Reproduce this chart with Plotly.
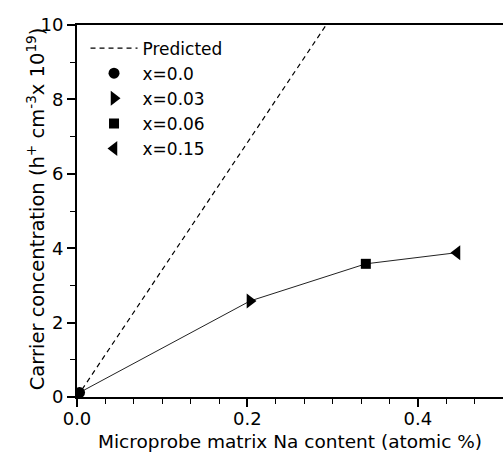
import plotly.graph_objects as go

# Measured hole concentration vs. microprobe matrix Na content
labels = ["x=0.0", "x=0.03", "x=0.06", "x=0.15"]
na_content = [0.003, 0.203, 0.339, 0.446]
carrier_conc = [0.12, 2.58, 3.58, 3.88]
symbols = ["circle", "triangle-right", "square", "triangle-left"]
sizes = [11, 13, 10, 13]

# Predicted carrier concentration (straight line from the origin)
pred_x = [0.0, 0.5]
pred_y = [0.0, 17.1]

x_ticks = [0.0, 0.2, 0.4]
y_ticks = [0, 2, 4, 6, 8, 10]

FONT = "DejaVu Sans"

fig = go.Figure()

fig.add_trace(go.Scatter(
    x=pred_x, y=pred_y, mode="lines", name="Predicted",
    line=dict(color="black", width=1.2, dash="5px,4px"),
))

fig.add_trace(go.Scatter(
    x=na_content, y=carrier_conc, mode="lines", showlegend=False,
    line=dict(color="#222", width=1), hoverinfo="skip",
))

for lab, xv, yv, sym, sz in zip(labels, na_content, carrier_conc, symbols, sizes):
    fig.add_trace(go.Scatter(
        x=[xv], y=[yv], mode="markers", name=lab,
        marker=dict(symbol=sym, size=sz, color="black", line=dict(width=0)),
    ))

axis_common = dict(
    showline=True, linecolor="black", linewidth=2,
    ticks="outside", tickcolor="black", tickwidth=1.5, ticklen=8,
    showgrid=False, zeroline=False,
    tickfont=dict(family=FONT, size=18, color="black"),
    title_font=dict(family=FONT, size=18.5, color="black"),
)

fig.update_xaxes(
    range=[0, 0.5], tickvals=x_ticks, ticktext=["0.0", "0.2", "0.4"],
    minor=dict(dtick=0.2 / 6, ticks="outside", ticklen=5, tickcolor="black", tickwidth=1),
    mirror=True, ticklabelstandoff=-4,
    title_text="Microprobe matrix Na content (atomic %)", title_standoff=7,
    **axis_common,
)
fig.update_yaxes(
    range=[0, 10], tickvals=y_ticks,
    minor=dict(dtick=1, ticks="outside", ticklen=5, tickcolor="black", tickwidth=1),
    **axis_common,
)

# Y-axis title placed as a rotated annotation beside the tick labels
fig.add_annotation(
    text="Carrier concentration (h<sup>+</sup> cm<sup>-3</sup>x 10<sup>19</sup>)",
    xref="paper", yref="paper", x=-0.096, y=0.505,
    xanchor="center", yanchor="middle", textangle=-90, showarrow=False,
    font=dict(family=FONT, size=19.5, color="black"),
)

fig.update_layout(
    width=503, height=453,
    margin=dict(l=77, r=0, t=25, b=56),
    plot_bgcolor="white", paper_bgcolor="white",
    showlegend=True,
    legend=dict(
        x=0.02, y=0.985, xanchor="left", yanchor="top",
        bgcolor="rgba(0,0,0,0)", borderwidth=0,
        font=dict(family=FONT, size=17, color="black"),
        itemwidth=47, tracegroupgap=0,
    ),
)

fig.write_html("out.html")
